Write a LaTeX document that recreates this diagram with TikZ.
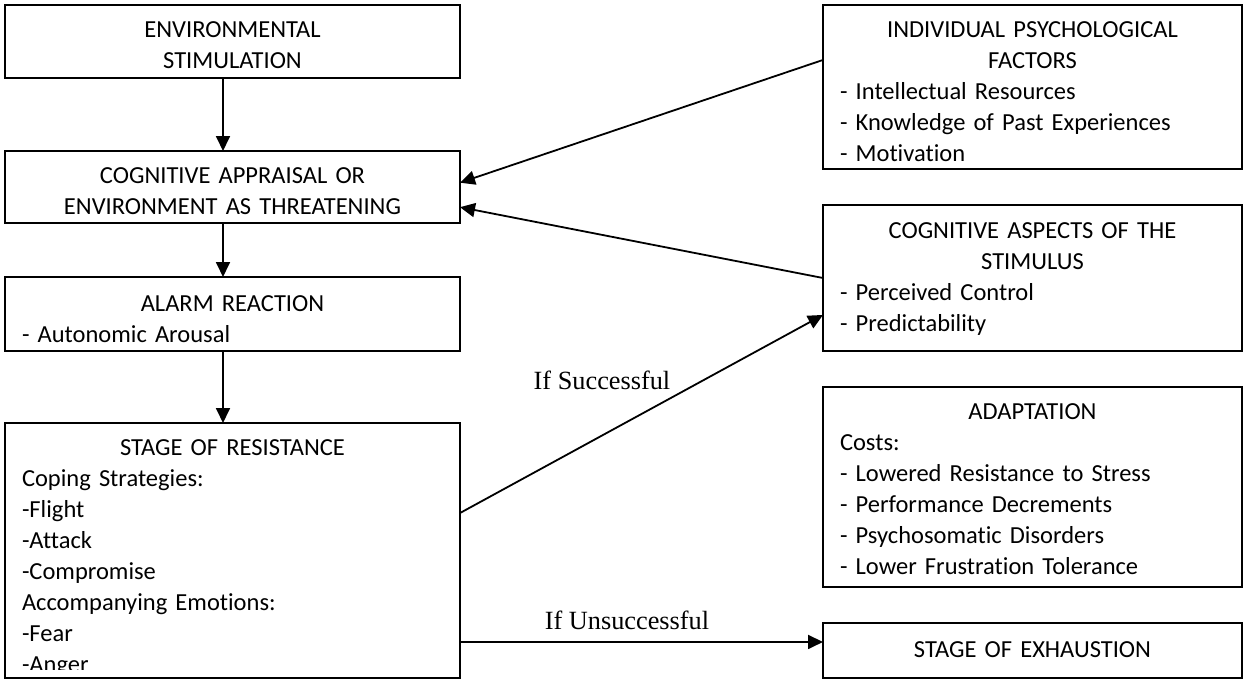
\documentclass[tikz,border=0pt]{standalone}
\usepackage{fontspec}
\setmainfont{Carlito}[Ligatures=NoCommon]
\newfontfamily\labelfont{Liberation Serif}
\usetikzlibrary{arrows.meta,calc}
\tikzset{
  box/.style={draw, line width=1.8pt, anchor=north west, outer sep=0pt,
    inner xsep=17pt, inner ysep=0pt, align=left,
    font=\fontsize{24.5}{31}\selectfont},
  leftbox/.style={box, text width=421pt},
  rightbox/.style={box, text width=385pt},
  flow/.style={-{Triangle[length=15pt,width=14pt]}, line width=1.8pt},
  cond/.style={anchor=base, font=\labelfont\fontsize{26.3}{30}\selectfont}
}
\begin{document}
\begin{tikzpicture}[x=1pt, y=-1pt]
  \useasboundingbox (0,0) rectangle (1249,688);
  \node[leftbox, text height=32pt, text depth=41pt] (env) at (5,5)
    {{\centering ENVIRONMENTAL\\ STIMULATION\par}};
  \node[leftbox, text height=32pt, text depth=40pt] (app) at (5,151)
    {{\centering COGNITIVE APPRAISAL OR\\ ENVIRONMENT AS THREATENING\par}};
  \node[leftbox, text height=34pt, text depth=40pt] (alarm) at (5,277)
    {{\centering ALARM REACTION\par}
     - Autonomic Arousal};
  \node[leftbox, text height=32pt, text depth=223pt] (res) at (5,423) {};
  \begin{scope}
    \clip (res.north west) rectangle ([yshift=9pt]res.south east);
    \node[leftbox, draw=none, text height=32pt, text depth=223pt] (restext) at (res.north west)
      {{\centering STAGE OF RESISTANCE\par}
       Coping Strategies:\\
       -Flight\\
       -Attack\\
       -Compromise\\
       Accompanying Emotions:\\
       -Fear\\
       -Anger};
  \end{scope}
  \node[rightbox, text height=32pt, text depth=132pt] (ind) at (823,5)
    {{\centering INDIVIDUAL PSYCHOLOGICAL\\ FACTORS\par}
     - Intellectual Resources\\
     - Knowledge of Past Experiences\\
     - Motivation};
  \node[rightbox, text height=33pt, text depth=113pt] (cogasp) at (823,205)
    {{\centering COGNITIVE ASPECTS OF THE\\ STIMULUS\par}
     - Perceived Control\\
     - Predictability};
  \node[rightbox, text height=32pt, text depth=168pt] (adapt) at (823,387)
    {{\centering ADAPTATION\par}
     Costs:\\
     - Lowered Resistance to Stress\\
     - Performance Decrements\\
     - Psychosomatic Disorders\\
     - Lower Frustration Tolerance};
  \node[rightbox, text height=34pt, text depth=21pt] (exh) at (823,623)
    {{\centering STAGE OF EXHAUSTION\par}};
  \draw[flow] ([xshift=-9.5pt]env.south) -- ([xshift=-9.5pt]app.north);
  \draw[flow] ([xshift=-9.5pt]app.south) -- ([xshift=-9.5pt]alarm.north);
  \draw[flow] ([xshift=-9.5pt]alarm.south) -- ([xshift=-9.5pt]res.north);
  \draw[flow] ($(ind.north west)!0.335!(ind.south west)$) -- ($(app.north east)!0.44!(app.south east)$);
  \draw[flow] (cogasp.west) -- ($(app.north east)!0.78!(app.south east)$);
  \draw[flow] ($(res.north east)!0.353!(res.south east)$) -- ($(cogasp.north west)!0.753!(cogasp.south west)$);
  \coordinate (exhin) at ($(exh.north west)!0.345!(exh.south west)$);
  \draw[flow] (res.east |- exhin) -- (exhin);
  \node[cond] (succ) at (602,389) {If Successful};
  \node[cond] (unsucc) at (627,629) {If Unsuccessful};
\end{tikzpicture}
\end{document}
